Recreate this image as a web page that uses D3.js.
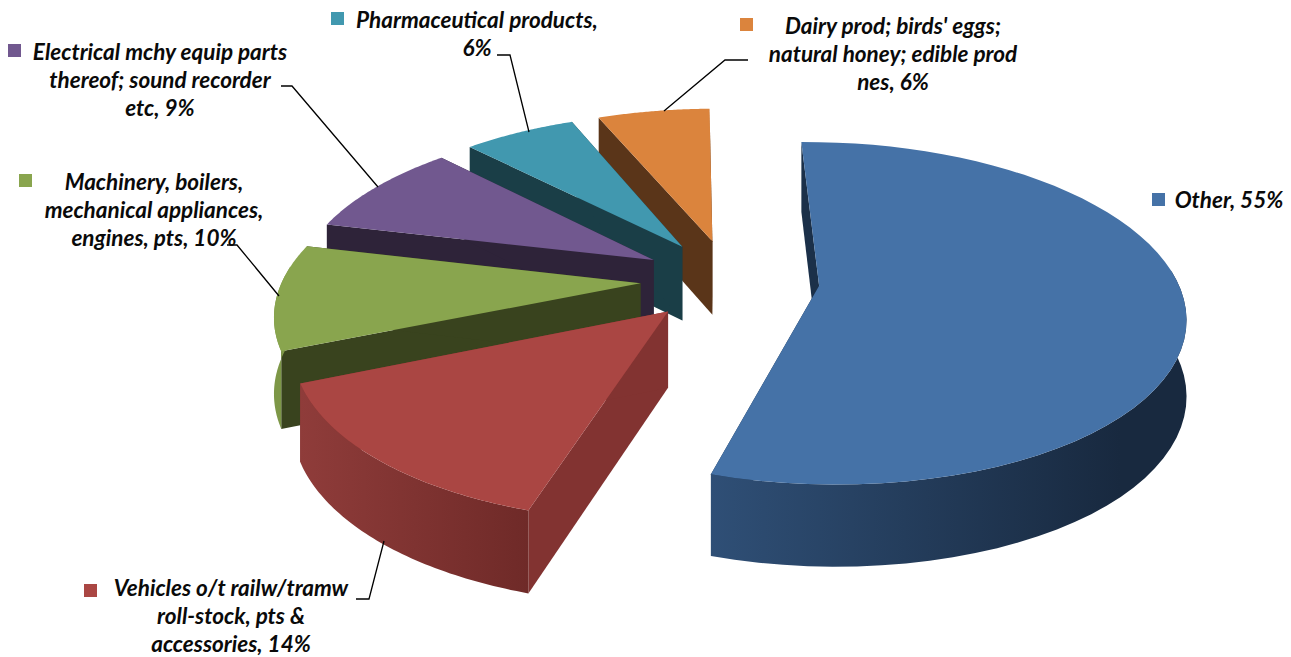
<!DOCTYPE html>
<html>
<head>
<meta charset="utf-8">
<script src="https://cdnjs.cloudflare.com/ajax/libs/d3/7.8.5/d3.min.js"></script>
<style>
  html, body { margin: 0; padding: 0; background: #fff; }
  svg { display: block; }
  .lbl { font-family: Lato, sans-serif; font-weight: 700; font-style: italic; font-size: 22.5px; fill: #0a0a0a; }
</style>
</head>
<body>
<svg id="chart" width="1291" height="657"></svg>
<script>
// values
var categories = ["Other", "Vehicles o/t railw/tramw roll-stock, pts & accessories", "Machinery, boilers, mechanical appliances, engines, pts", "Electrical mchy equip parts thereof; sound recorder etc", "Pharmaceutical products", "Dairy prod; birds' eggs; natural honey; edible prod nes"];
var shares = [55, 14, 10, 9, 6, 6];
var labelLines = [
  ["Other, 55%"],
  ["Vehicles o/t railw/tramw", "roll-stock, pts &", "accessories, 14%"],
  ["Machinery, boilers,", "mechanical appliances,", "engines, pts, 10%"],
  ["Electrical mchy equip parts", "thereof; sound recorder", "etc, 9%"],
  ["Pharmaceutical products,", "6%"],
  ["Dairy prod; birds' eggs;", "natural honey; edible prod", "nes, 6%"]
];
var colours = ["#4572A7", "#AA4643", "#89A54E", "#71588F", "#4198AF", "#DB843D"];
var wallColours = ["#1b3049", "#823331", "#39431E", "#2E2339", "#1A3E47", "#5A3519"];
var bandLeft = ["#2f4f76", "#8f3c3a", "#7d9747", "#2E2339", "#1A3E47", "#5A3519"];
var bandRight = ["#18293f", "#6f2a28", "#7d9747", "#2E2339", "#1A3E47", "#5A3519"];

// label layout: text centre x, first baseline, swatch corner, leader line
var labelX = [1229, 231, 154, 160, 477, 893];
var labelY = [208, 596, 190, 60, 28, 34];
var swatchX = [1152, 84, 19, 8, 331, 740];
var swatchY = [193, 584, 174, 44, 12, 18];
var leaders = [
  null,
  [[356, 599], [369, 599], [384, 541]],
  [[227, 245], [237, 245], [279, 296]],
  [[281, 86], [292, 86], [378, 187]],
  [[497, 55], [510, 55], [529, 132]],
  [[748, 60], [725, 60], [664, 111]]
];

// camera for the tilted disc
var cx = 730, cy = 280, scaleU = 358, scaleV = 165, persp = 0.16, depth = 75, explode = 0.25;
var startDeg = -1;

function project(u, v, h) {
  var w = 1 - persp * v;
  return [cx + scaleU * u / w, cy + scaleV * v / w + h * depth / Math.sqrt(w)];
}

var svg = d3.select("#chart");
var defs = svg.append("defs");

var pie = d3.pie().sort(null).value(function (d) { return d; })
  .startAngle(startDeg * Math.PI / 180)
  .endAngle((startDeg + 360) * Math.PI / 180);
var arcs = pie(shares);

var line = d3.line();
var polyPath = function (pts) { return line(pts) + "Z"; };

// back slices first, "Other" on top
var drawOrder = [5, 4, 3, 2, 1, 0];

drawOrder.forEach(function (i) {
  var a = arcs[i];
  var mid = (a.startAngle + a.endAngle) / 2;
  var ou = explode * Math.sin(mid), ov = -explode * Math.cos(mid);
  var t = d3.range(0, 61).map(function (k) {
    return a.startAngle + (a.endAngle - a.startAngle) * k / 60;
  });
  var rimAt = function (angles, h) {
    return angles.map(function (ang) { return project(ou + Math.sin(ang), ov - Math.cos(ang), h); });
  };
  var apexTop = project(ou, ov, 0), apexBot = project(ou, ov, 1);
  var topRim = rimAt(t, 0), botRim = rimAt(t, 1);
  var g = svg.append("g").attr("class", "slice");

  // cut faces
  [topRim[0], topRim[topRim.length - 1]].forEach(function (p, j) {
    var q = j === 0 ? botRim[0] : botRim[botRim.length - 1];
    g.append("path").attr("d", polyPath([apexTop, p, q, apexBot])).attr("fill", wallColours[i]);
  });

  // outer band, front part of the rim only
  var front = t.filter(function (ang) { return Math.cos(ang) < 0.1; });
  if (front.length > 1) {
    var xs = topRim.map(function (p) { return p[0]; });
    var grad = defs.append("linearGradient").attr("id", "band" + i)
      .attr("gradientUnits", "userSpaceOnUse")
      .attr("x1", d3.min(xs)).attr("x2", i === 0 ? d3.max(xs) * 0.86 + d3.min(xs) * 0.14 : d3.max(xs))
      .attr("y1", 0).attr("y2", 0);
    grad.append("stop").attr("offset", 0).attr("stop-color", bandLeft[i]);
    grad.append("stop").attr("offset", 1).attr("stop-color", bandRight[i]);
    g.append("path").attr("d", polyPath(rimAt(front, 0).concat(rimAt(front, 1).reverse()))).attr("fill", "url(#band" + i + ")");
  }

  // top face
  g.append("path").attr("d", polyPath([apexTop].concat(topRim))).attr("fill", colours[i]);
});

// leader lines
leaders.forEach(function (pts) {
  if (!pts) return;
  svg.append("path").attr("d", line(pts)).attr("fill", "none").attr("stroke", "#000").attr("stroke-width", 1.3);
});

// labels
labelLines.forEach(function (lines, i) {
  svg.append("rect").attr("x", swatchX[i]).attr("y", swatchY[i]).attr("width", 13).attr("height", 13).attr("fill", colours[i]);
  lines.forEach(function (s, j) {
    svg.append("text").attr("class", "lbl").attr("text-anchor", "middle")
      .attr("x", labelX[i]).attr("y", labelY[i] + j * 28).text(s);
  });
});
</script>
</body>
</html>
